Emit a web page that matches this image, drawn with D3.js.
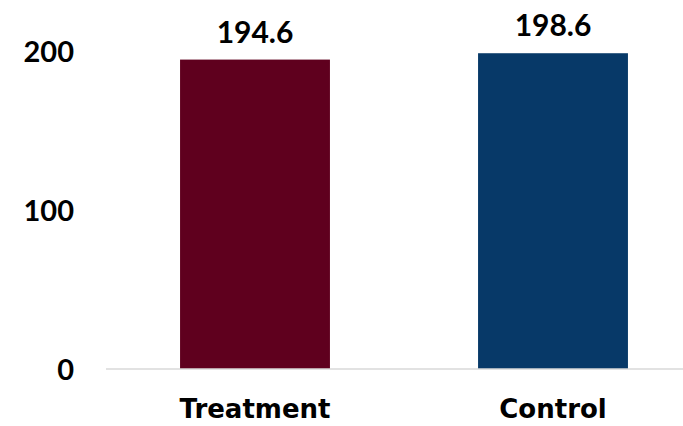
<!DOCTYPE html>
<html>
<head>
<meta charset="utf-8">
<script src="https://cdn.jsdelivr.net/npm/d3@7"></script>
<style>
  html, body { margin: 0; padding: 0; background: #ffffff; }
  svg { display: block; }
</style>
</head>
<body>
<svg id="chart" width="683" height="426"></svg>
<script>
const categories = ["Treatment", "Control"];
const values = [194.6, 198.6];
const colors = ["#5f001e", "#073968"];
const yTicks = [0, 100, 200];

const svg = d3.select("#chart");

const x = d3.scaleBand()
  .domain(categories)
  .range([106, 702])
  .paddingInner(0.497)
  .paddingOuter(0.2485);

const y = d3.scaleLinear()
  .domain([0, 200])
  .range([369, 51]);

// bars
svg.selectAll("rect.bar")
  .data(categories)
  .join("rect")
  .attr("class", "bar")
  .attr("x", d => x(d))
  .attr("width", x.bandwidth())
  .attr("y", (d, i) => y(values[i]))
  .attr("height", (d, i) => y(0) - y(values[i]))
  .attr("fill", (d, i) => colors[i]);

// baseline
svg.append("line")
  .attr("x1", 106).attr("x2", 683)
  .attr("y1", y(0)).attr("y2", y(0))
  .attr("stroke", "#d9d9d9")
  .attr("stroke-width", 1.5);

// y axis labels
const yAxis = d3.axisLeft(y).tickValues(yTicks).tickSize(0).tickPadding(0).tickFormat(d3.format("d"));
const gy = svg.append("g").attr("transform", "translate(74,0)").call(yAxis);
gy.select(".domain").remove();
gy.selectAll("text")
  .style("font-size", "29px")
  .style("font-family", "Lato, 'Open Sans', sans-serif")
  .style("font-weight", 700)
  .attr("fill", "#000")
  .attr("dy", "0.36em");

// x axis labels
const xAxis = d3.axisBottom(x).tickSize(0).tickPadding(0);
const gx = svg.append("g").attr("transform", "translate(0,418)").call(xAxis);
gx.select(".domain").remove();
gx.selectAll("text")
  .style("font-size", "26px")
  .style("font-family", "'DejaVu Sans', sans-serif")
  .style("font-weight", 700)
  .attr("fill", "#000")
  .attr("dy", 0)
  .attr("y", 0);

// value labels
svg.selectAll("text.value")
  .data(categories)
  .join("text")
  .attr("class", "value")
  .attr("x", d => x(d) + x.bandwidth() / 2)
  .attr("y", (d, i) => y(values[i]) - 17)
  .attr("text-anchor", "middle")
  .style("font-size", "30px")
  .style("font-family", "Lato, 'Open Sans', sans-serif")
  .style("font-weight", 700)
  .attr("fill", "#000")
  .text((d, i) => d3.format(".1f")(values[i]));
</script>
</body>
</html>
